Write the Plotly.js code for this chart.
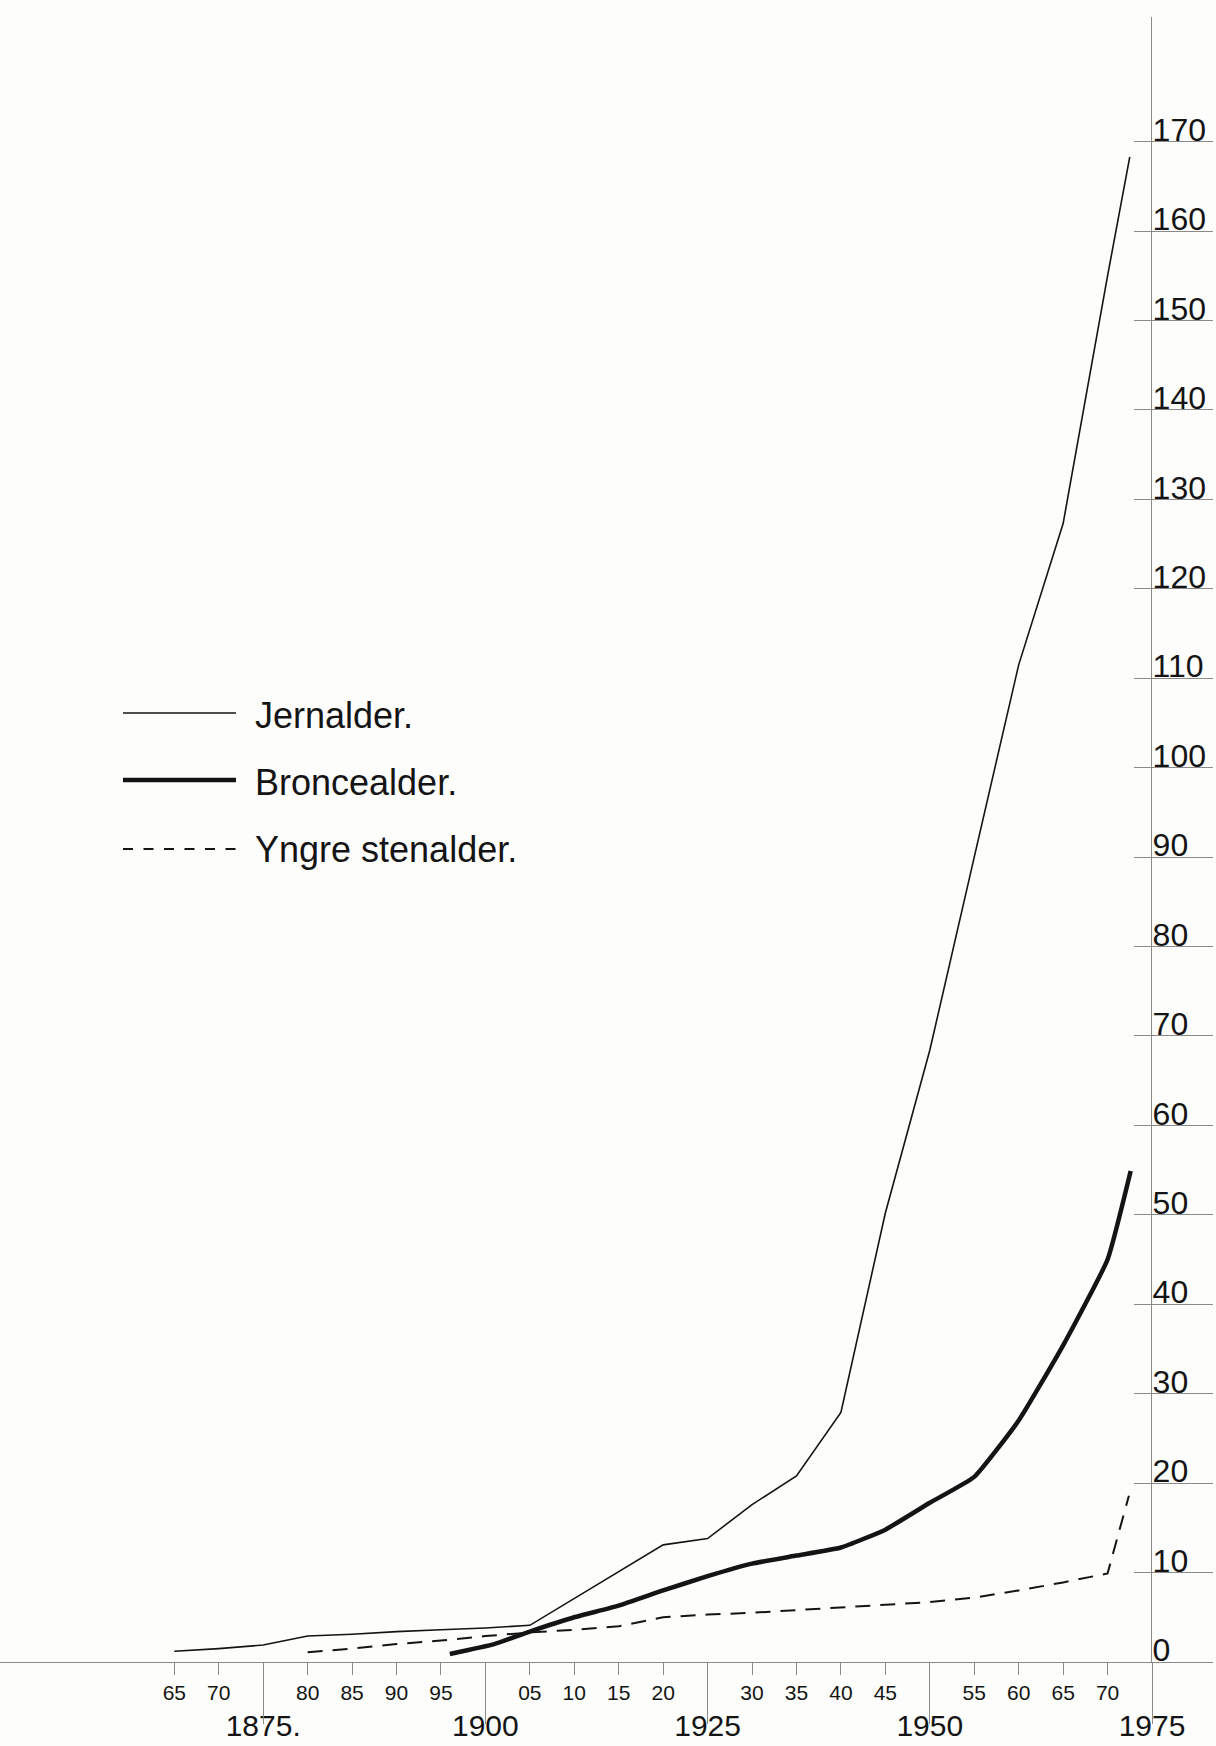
<!DOCTYPE html>
<html>
<head>
<meta charset="utf-8">
<script src="https://cdn.plot.ly/plotly-3.0.1.min.js"></script>
<style>
  html, body { margin: 0; padding: 0; background: #fdfdfb; }
  #chart { width: 1216px; height: 1746px; }
</style>
</head>
<body>
<div id="chart"></div>
<script>
// ---------------- DATA ----------------
const seriesNames = ['Jernalder.', 'Broncealder.', 'Yngre stenalder.'];

const jernYears = [1865,1870,1875,1880,1885,1890,1895,1900,1905,1910,1915,1920,1925,1930,1935,1940,1945,1950,1955,1960,1965,1970,1972.5];
const jernVals  = [1.2,1.5,1.9,2.9,3.1,3.4,3.6,3.8,4.1,7.1,10.1,13.1,13.8,17.6,20.8,27.9,50.2,68.4,90.0,111.5,127.3,155.0,168.3];

const bronYears = [1896,1901,1905,1910,1915,1920,1925,1930,1935,1940,1945,1950,1955,1960,1965,1970,1972.6];
const bronVals  = [0.9,2.0,3.4,5.0,6.3,8.0,9.6,11.0,11.9,12.8,14.8,17.8,20.7,27.0,35.4,45.0,54.9];

const yngYears = [1880,1885,1890,1895,1900,1905,1910,1915,1920,1925,1930,1935,1940,1945,1950,1955,1960,1965,1970,1972.4];
const yngVals  = [1.1,1.5,2.0,2.4,2.9,3.3,3.6,4.0,5.0,5.3,5.5,5.8,6.1,6.4,6.7,7.2,8.0,8.9,9.9,18.6];

const minorTickYears = [1865,1870,1880,1885,1890,1895,1905,1910,1915,1920,1930,1935,1940,1945,1955,1960,1965,1970];
const minorTickText  = ['65','70','80','85','90','95','05','10','15','20','30','35','40','45','55','60','65','70'];
const majorTickYears = [1875,1900,1925,1950,1975];
const majorTickText  = ['1875.','1900','1925','1950','1975'];
const yTickVals = [0,10,20,30,40,50,60,70,80,90,100,110,120,130,140,150,160,170];
const yTickText = ['0','10','20','30','40','50','60','70','80','90','100','110','120','130','140','150','160','170'];

// ---------------- LAYOUT ----------------
const W = 1216, H = 1746;
const mT = 17, mB = 84;
const axisPixel = 1152;                 // where the vertical axis (1975) stands
const xRange = [1845.39, 1975];
const yRange = [0, 183.94];
const xDomain = [0, axisPixel / W];

const ink = '#141414';
const axisGray = '#8a8a8a';
const font = '"Liberation Sans", Arial, sans-serif';

const traces = [
  { x: jernYears, y: jernVals, type: 'scatter', mode: 'lines', name: seriesNames[0],
    line: { color: ink, width: 1.6 }, showlegend: false, hoverinfo: 'skip' },
  { x: bronYears, y: bronVals, type: 'scatter', mode: 'lines', name: seriesNames[1],
    line: { color: ink, width: 4.5, shape: 'spline', smoothing: 0.4 }, showlegend: false, hoverinfo: 'skip' },
  { x: yngYears, y: yngVals, type: 'scatter', mode: 'lines', name: seriesNames[2],
    line: { color: ink, width: 2, dash: '15px,10px' }, showlegend: false, hoverinfo: 'skip' },
  // helper empty traces to materialise the extra axes
  { x: [], y: [], xaxis: 'x2', yaxis: 'y', showlegend: false, hoverinfo: 'skip' },
  { x: [], y: [], xaxis: 'x3', yaxis: 'y', showlegend: false, hoverinfo: 'skip' },
  { x: [], y: [], xaxis: 'x4', yaxis: 'y2', showlegend: false, hoverinfo: 'skip' }
];

// legend drawn with shapes + annotations (paper coords)
const plotH = H - mT - mB;
function py(pix) { return (H - mB - pix) / plotH; }
function px(pix) { return pix / W; }
const legendRows = [
  { yLine: 713, yText: 715, width: 1.6, dash: 'solid' },
  { yLine: 780, yText: 782, width: 4.5, dash: 'solid' },
  { yLine: 849, yText: 850, width: 1.8, dash: '10px,10.5px' }
];
const shapes = legendRows.map(r => ({
  type: 'line', xref: 'paper', yref: 'paper',
  x0: px(123), x1: px(236), y0: py(r.yLine), y1: py(r.yLine),
  line: { color: ink, width: r.width, dash: r.dash }
}));
const annotations = legendRows.map((r, i) => ({
  xref: 'paper', yref: 'paper', x: px(253), y: py(r.yText),
  xanchor: 'left', yanchor: 'middle', showarrow: false,
  text: seriesNames[i], font: { family: font, size: 36, color: ink }
}));

const layout = {
  width: W, height: H,
  margin: { l: 0, r: 0, t: mT, b: mB, pad: 0 },
  paper_bgcolor: '#fdfdfb', plot_bgcolor: '#fdfdfb',
  showlegend: false,
  xaxis: {
    domain: xDomain, range: xRange, anchor: 'y', side: 'bottom',
    tickmode: 'array', tickvals: minorTickYears, ticktext: minorTickText,
    ticks: 'outside', ticklen: 12, tickwidth: 1, tickcolor: axisGray,
    tickfont: { family: font, size: 21, color: ink },
    showline: true, linecolor: axisGray, linewidth: 1,
    showgrid: false, zeroline: false, fixedrange: true
  },
  xaxis2: {
    domain: xDomain, range: xRange, overlaying: 'x', anchor: 'y', side: 'bottom',
    tickmode: 'array', tickvals: majorTickYears, ticktext: majorTickText,
    ticks: 'outside', ticklen: 53, tickwidth: 1, tickcolor: 'rgba(0,0,0,0)',
    ticklabelstandoff: -16,
    tickfont: { family: font, size: 30, color: ink },
    showline: false, showgrid: false, zeroline: false, fixedrange: true
  },
  xaxis3: {
    domain: xDomain, range: xRange, overlaying: 'x', anchor: 'y', side: 'bottom',
    tickmode: 'array', tickvals: majorTickYears,
    ticks: 'outside', ticklen: 61, tickwidth: 1, tickcolor: axisGray,
    showticklabels: false, showline: false, showgrid: false, zeroline: false, fixedrange: true
  },
  xaxis4: {
    domain: [axisPixel / W, 1213 / W], range: [0, 1], anchor: 'y2',
    showticklabels: false, ticks: '', showline: false, showgrid: false, zeroline: false, fixedrange: true
  },
  yaxis: {
    range: yRange, anchor: 'x', visible: false, fixedrange: true
  },
  yaxis2: {
    range: yRange, anchor: 'x4', side: 'left',
    tickmode: 'array', tickvals: yTickVals, ticktext: yTickText,
    ticks: 'outside', ticklen: 17, tickwidth: 1, tickcolor: axisGray,
    ticklabelposition: 'inside', ticklabelshift: -12, ticklabelstandoff: 4,
    ticklabeloverflow: 'allow',
    tickfont: { family: font, size: 32, color: ink },
    showgrid: true, gridcolor: axisGray, gridwidth: 1,
    zeroline: true, zerolinecolor: axisGray, zerolinewidth: 1,
    showline: true, linecolor: axisGray, linewidth: 1, fixedrange: true
  },
  shapes: shapes,
  annotations: annotations
};

Plotly.newPlot('chart', traces, layout, { staticPlot: true, displayModeBar: false });
</script>
</body>
</html>
